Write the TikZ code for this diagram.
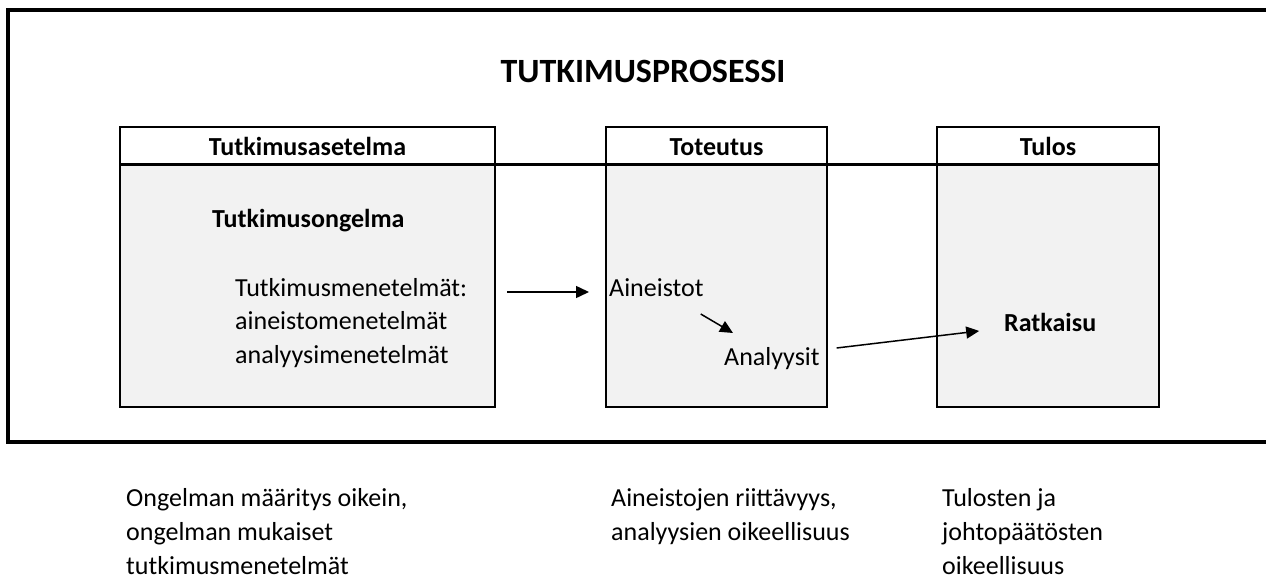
\documentclass[tikz,border=0pt]{standalone}
\usepackage{fontspec}
\setmainfont{Carlito}
\usetikzlibrary{arrows.meta,positioning}
\definecolor{boxgray}{HTML}{F2F2F2}

\begin{document}
\begin{tikzpicture}[%
	x=1pt, y=-1pt,%
	txt/.style ={inner sep=0pt, anchor=base west, font=\fontsize{26}{34}\selectfont},%
	head/.style ={inner sep=0pt, anchor=base, font=\fontsize{26}{34}\selectfont\bfseries},%
	arr/.style ={line width=1.5pt, -{Triangle[length=13pt,width=12pt]}},%
	]
	\useasboundingbox (0,0) rectangle (1266,578);
%%% frame
	\draw [line width=4pt] (1266,10) -- (8,10) -- (8,442) -- (1266,442);
	\node [head, font=\fontsize{34}{40}\selectfont\bfseries] (title) at (643,82) {TUTKIMUSPROSESSI};
%%% frame
%%% columns
	\foreach \l/\r/\name in {120/495/Tutkimusasetelma, 606/827/Toteutus, 937/1159/Tulos}
		{\filldraw [fill=white, line width=1.5pt] (\l,127) rectangle (\r,164);
		 \filldraw [fill=boxgray, line width=1.5pt] (\l,164) rectangle (\r,407);
		 \node [head] (\name) at ({(\l+\r)/2},155.5) {\name};}
	\draw [line width=3pt] (120,164) -- (1159,164);
%%% columns
%%% texts
	\node [txt, font=\fontsize{26}{34}\selectfont\bfseries] (ongelma) at (212,227) {Tutkimusongelma};
	\node [txt] (menetelmat) at (235,296) {Tutkimusmenetelmät:};
	\node [txt] (aineistomen) at (235,329.5) {aineistomenetelmät};
	\node [txt] (analyysimen) at (235,363) {analyysimenetelmät};
	%
	\node [txt] (aineistot) at (609,296) {Aineistot};
	\node [txt] (analyysit) at (724,365) {Analyysit};
	%
	\node [txt, font=\fontsize{26}{34}\selectfont\bfseries] (ratkaisu) at (1004,331) {Ratkaisu};
%%% texts
%%% arrows
	\draw [arr, shorten <=40pt, shorten >=20pt] ([yshift=4pt]menetelmat.base east) -- ([yshift=4pt]aineistot.base west);
	\draw [arr, shorten >=0pt] ([xshift=-3pt,yshift=-18pt]aineistot.base east) -- ([xshift=9pt,yshift=32pt]analyysit.base west);
	\draw [arr, shorten <=17pt, shorten >=25pt] ([yshift=15pt]analyysit.base east) -- ([yshift=3pt]ratkaisu.base west);
%%% arrows
%%% notes
	\foreach \x/\y/\line [count=\i] in {126/506/{Ongelman määritys oikein,}, 126/540/{ongelman mukaiset}, 126/574/{tutkimusmenetelmät},%
		611/506/{Aineistojen riittävyys,}, 611/540/{analyysien oikeellisuus},%
		942/506/{Tulosten ja}, 942/540/{johtopäätösten}, 942/574/{oikeellisuus}}
		{\node [txt] (note\i) at (\x,\y) {\line};}
%%% notes
\end{tikzpicture}
\end{document}
